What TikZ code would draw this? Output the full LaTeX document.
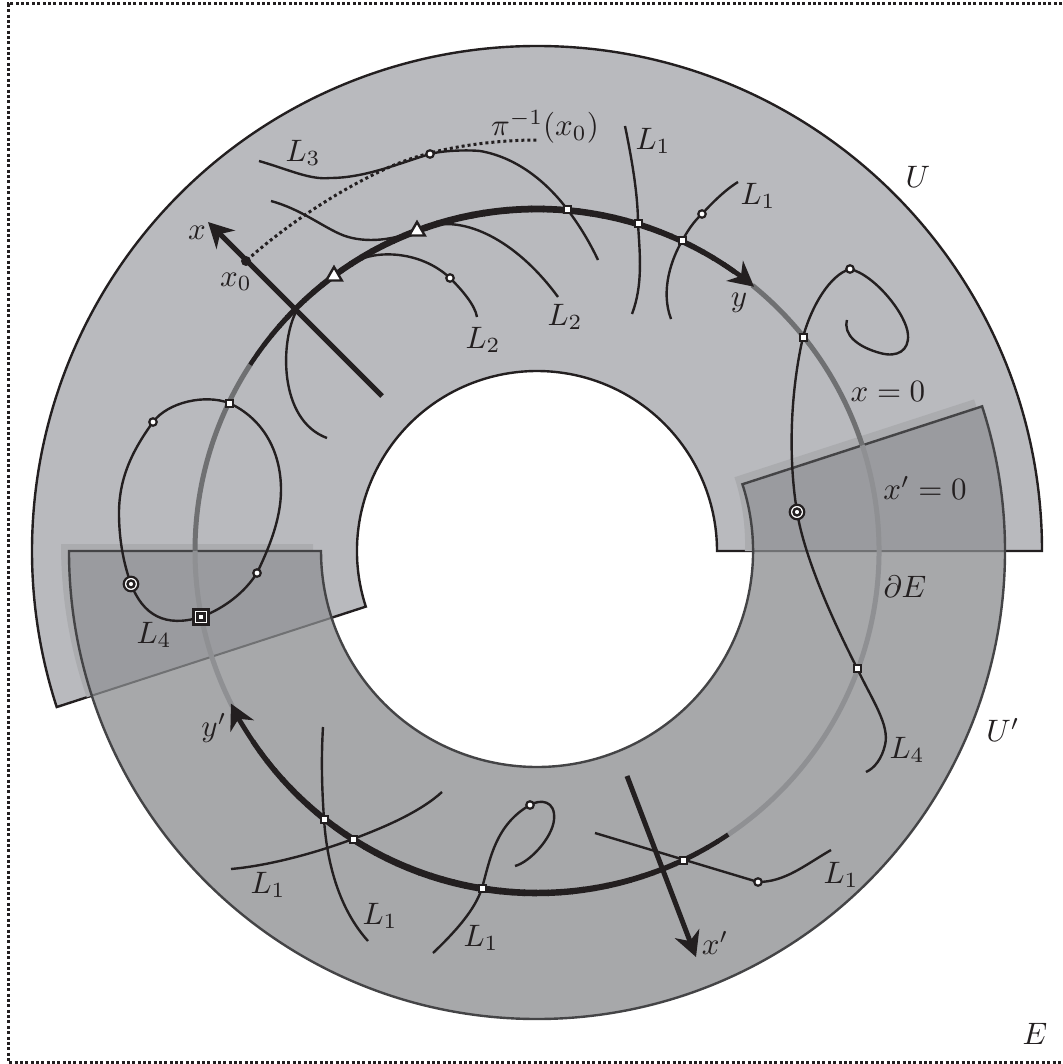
\documentclass[tikz,border=0pt]{standalone}
\usetikzlibrary{arrows.meta,shapes.geometric}
\definecolor{ink}{HTML}{231F20}
\definecolor{ufill}{HTML}{B9BABE}
\definecolor{vfill}{HTML}{A7A8AA}
\definecolor{both}{HTML}{9A9B9F}
\definecolor{halo}{HTML}{ABACAF}
\definecolor{darkarc}{HTML}{6F7072}
\definecolor{lightarc}{HTML}{8F9093}
\definecolor{vline}{HTML}{444446}
\definecolor{uline}{HTML}{707173}
\newcommand{\pathU}{(0:505pt) arc[start angle=0,end angle=198,radius=505pt] -- (198:180pt) arc[start angle=198,end angle=0,radius=180pt] -- cycle}
\newcommand{\pathV}{(180:468pt) arc[start angle=180,end angle=378,radius=468pt] -- (18:216pt) arc[start angle=18,end angle=-180,radius=216pt] -- cycle}
\tikzset{
  lab/.style={scale=3.1,text=ink,inner sep=0pt},
  leaf/.style={draw=ink,line width=2.4pt,line join=round},
  axisline/.style={draw=ink,line width=5pt},
  bigtip/.style={-{Stealth[length=25pt,width=26pt,inset=8pt]}},
  sqmark/.style={rectangle,draw=ink,fill=white,line width=2pt,minimum size=7pt,inner sep=0pt},
  dotmark/.style={circle,draw=ink,fill=white,line width=2.2pt,minimum size=7.5pt,inner sep=0pt},
  trimark/.style={regular polygon,regular polygon sides=3,draw=ink,fill=white,line width=2.4pt,minimum size=18pt,inner sep=0pt},
  ringout/.style={circle,draw=ink,fill=white,line width=2.2pt,minimum size=14.5pt,inner sep=0pt},
  ringin/.style={circle,draw=ink,fill=white,line width=2.4pt,minimum size=7pt,inner sep=0pt},
  boxout/.style={rectangle,draw=ink,fill=white,line width=2.2pt,minimum size=15pt,inner sep=0pt},
  boxin/.style={rectangle,draw=ink,fill=white,line width=2.4pt,minimum size=7pt,inner sep=0pt},
}
\begin{document}
\begin{tikzpicture}[x=1pt,y=-1pt]
\useasboundingbox (0,0) rectangle (1062,1064);
\draw[ink,line width=3pt,dash pattern=on 3pt off 2.35pt] (1062,4) -- (8,4) -- (8,1062) -- (1062,1062);
\begin{scope}[shift={(537,551)}]
  \fill[ufill] \pathU;
  \draw[ink,line width=2.4pt,line join=miter] \pathU;
  \begin{scope}
    \clip \pathU;
    \fill[halo,shift={(-8pt,7pt)}] \pathV;
  \end{scope}
  \fill[vfill] \pathV;
  \begin{scope}
    \clip \pathU;
    \fill[both] \pathV;
  \end{scope}
  \begin{scope}
    \clip \pathV;
    \draw[uline,line width=2pt] \pathU;
  \end{scope}
  \draw[vline,line width=2.4pt,line join=miter] \pathV;
  % the curve x=0, seen in U only and through U'
  \draw[darkarc,line width=5pt] (147:342pt) arc[start angle=147,end angle=180,radius=342pt];
  \draw[darkarc,line width=5pt] (51:342pt) arc[start angle=51,end angle=18,radius=342pt];
  \draw[lightarc,line width=5pt] (18:342pt) arc[start angle=18,end angle=-56,radius=342pt];
  \draw[lightarc,line width=5pt] (180:342pt) arc[start angle=180,end angle=207,radius=342pt];
  % thick parts, swelling towards their middles
  \foreach \a in {147,145,...,57}{
    \pgfmathsetmacro{\w}{4.6+2.2*sin((\a-50)*1.8557)}
    \draw[ink,line width=\w pt] (\a:342pt) arc[start angle=\a,end angle=\a-2.2,radius=342pt];
  }
  \foreach \a in {-56,-58,...,-144}{
    \pgfmathsetmacro{\w}{4.6+2.2*sin((-56-\a)*1.8557)}
    \draw[ink,line width=\w pt] (\a:342pt) arc[start angle=\a,end angle=\a-2.2,radius=342pt];
  }
  \draw[ink,line width=4.8pt,bigtip] (57:342pt) arc[start angle=57,end angle=50.6,radius=342pt];
  \draw[ink,line width=4.8pt,bigtip] (-146:342pt) arc[start angle=-146,end angle=-153.5,radius=342pt];
\end{scope}
% axes
\draw[axisline,bigtip] (382,396) -- (208,222);
\draw[axisline,bigtip] (627,776) -- (696,957);
% dotted fibre
\draw[ink,line width=3pt,dash pattern=on 3pt off 3pt] (247,260) .. controls (290,222) and (340,190) .. (383,170) .. controls (400,162) and (415,157) .. (430,153) .. controls (465,144) and (505,140) .. (537,140);
% leaves in U
\draw[leaf] (259,161) .. controls (290,170) and (310,180) .. (330,178) .. controls (365,178) and (400,163) .. (430,154) .. controls (445,150) and (470,150) .. (480,151) .. controls (515,157) and (545,180) .. (567,209) .. controls (580,226) and (590,243) .. (598,260);
\draw[leaf] (271,201) .. controls (300,209) and (320,225) .. (340,234) .. controls (360,243) and (390,242) .. (417,230);
\draw[leaf] (430,226) .. controls (470,216) and (520,245) .. (558,297);
\draw[leaf] (355,262) .. controls (375,250) and (420,250) .. (450,278) .. controls (462,290) and (475,305) .. (477,317);
\draw[leaf] (297,310) .. controls (280,340) and (278,420) .. (327,438);
\draw[leaf] (625,126) .. controls (632,160) and (638,195) .. (638,224) .. controls (640,255) and (643,285) .. (632,314);
\draw[leaf] (738,182) .. controls (725,190) and (712,203) .. (702,214) .. controls (693,222) and (687,232) .. (682,241) .. controls (672,258) and (660,290) .. (671,319);
\draw[leaf] (847,320) .. controls (843,335) and (858,347) .. (880,353) .. controls (898,358) and (909,350) .. (908,335) .. controls (907,315) and (875,275) .. (850,269) .. controls (830,275) and (812,305) .. (803,337) .. controls (792,385) and (787,450) .. (797,512) .. controls (805,560) and (835,625) .. (857,668) .. controls (872,700) and (890,725) .. (885,745) .. controls (882,758) and (875,768) .. (866,772);
\draw[leaf] (229,403) .. controls (262,418) and (281,450) .. (281,490) .. controls (281,520) and (268,550) .. (257,573) .. controls (245,592) and (225,608) .. (201,617) .. controls (165,628) and (143,615) .. (131,584) .. controls (123,562) and (119,538) .. (119,513) .. controls (119,475) and (135,447) .. (153,422) .. controls (168,402) and (205,394) .. (229,403) -- cycle;
% leaves in U'
\draw[leaf] (323,727) .. controls (321,760) and (322,790) .. (324,819) .. controls (327,865) and (340,910) .. (368,941);
\draw[leaf] (231,869) .. controls (265,866) and (310,855) .. (353,839) .. controls (385,827) and (420,812) .. (442,792);
\draw[leaf] (433,953) .. controls (455,932) and (475,910) .. (482,888) .. controls (490,860) and (495,825) .. (530,805) .. controls (540,799) and (556,800) .. (554,820) .. controls (552,838) and (530,862) .. (515,866);
\draw[leaf] (595,833) -- (758,882) .. controls (785,882) and (805,865) .. (831,850);
% marks
\node[sqmark] (s1) at (567,210) {};
\node[sqmark] (s2) at (638,224) {};
\node[sqmark] (s3) at (682,241) {};
\node[sqmark] (s4) at (803,337) {};
\node[sqmark] (s5) at (857,668) {};
\node[sqmark] (s6) at (229,403) {};
\node[sqmark] (s7) at (324,819) {};
\node[sqmark] (s8) at (353,839) {};
\node[sqmark] (s9) at (482,888) {};
\node[sqmark] (s10) at (683,860) {};
\node[dotmark] (d1) at (430,154) {};
\node[dotmark] (d2) at (702,214) {};
\node[dotmark] (d3) at (450,278) {};
\node[dotmark] (d4) at (850,269) {};
\node[dotmark] (d5) at (153,422) {};
\node[dotmark] (d6) at (257,573) {};
\node[dotmark] (d7) at (530,805) {};
\node[dotmark] (d8) at (758,882) {};
\node[trimark] (t1) at (417,231) {};
\node[trimark] (t2) at (334,276) {};
\node[ringout] (r1o) at (797,512) {};
\node[ringin] (r1i) at (797,512) {};
\node[ringout] (r2o) at (131,584) {};
\node[ringin] (r2i) at (131,584) {};
\node[boxout] (b1o) at (201,617) {};
\node[boxin] (b1i) at (201,617) {};
\node[circle,fill=ink,minimum size=10pt,inner sep=0pt] (x0) at (246,261) {};
% labels
\node[lab] (lx) at (197,233) {$x$};
\node[lab] (lx0) at (236,282) {$x_0$};
\node[lab] (lL3) at (303,153) {$L_3$};
\node[lab] (lL2a) at (483,340) {$L_2$};
\node[lab] (lL2b) at (565,317) {$L_2$};
\node[lab] (lpi) at (545,127) {$\pi^{-1}(x_0)$};
\node[lab] (lL1a) at (653,141) {$L_1$};
\node[lab] (lL1b) at (758,196) {$L_1$};
\node[lab] (ly) at (739,303) {$y$};
\node[lab] (lU) at (918,177) {$U$};
\node[lab] (lxz) at (888,392) {$x=0$};
\node[lab] (lxpz) at (925,488) {$x'=0$};
\node[lab] (ldE) at (905,587) {$\partial E$};
\node[lab] (lUp) at (1003,730) {$U'$};
\node[lab] (lL4a) at (907,750) {$L_4$};
\node[lab] (lL4b) at (154,635) {$L_4$};
\node[lab] (lyp) at (214,728) {$y'$};
\node[lab] (lL1c) at (268,885) {$L_1$};
\node[lab] (lL1d) at (380,916) {$L_1$};
\node[lab] (lL1e) at (481,938) {$L_1$};
\node[lab] (lxp) at (715,943) {$x'$};
\node[lab] (lL1f) at (841,875) {$L_1$};
\node[lab] (lE) at (1035,1034) {$E$};
\end{tikzpicture}
\end{document}
